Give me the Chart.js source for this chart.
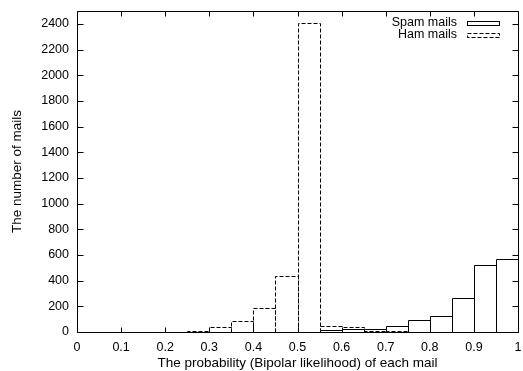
<!DOCTYPE html>
<html>
<head>
<meta charset="utf-8">
<title>Bipolar likelihood histogram</title>
<script src="https://cdn.jsdelivr.net/npm/chart.js@4/dist/chart.umd.min.js"></script>
<style>
  html, body { margin: 0; padding: 0; background: #fff; }
  #wrap { width: 523px; height: 371px; }
</style>
</head>
<body>
<div id="wrap"><canvas id="histo" width="523" height="371"></canvas></div>
<script>
// ================= DATA =================
// bins are 0.05 wide, stored by their centre
const binCenters = [0.275, 0.325, 0.375, 0.425, 0.475, 0.525, 0.575, 0.625, 0.675, 0.725, 0.775, 0.825, 0.875, 0.925, 0.975];
const spamCounts = [null, null, null, null, null, null, 15, 25, 22, 48, 95, 125, 265, 525, 572];
const hamCounts  = [6, 40, 85, 190, 435, 2410, 45, 38, 10, 4, null, null, null, null, null];
const seriesLabels = ["Spam mails", "Ham mails"];
const xTicks = [0, 0.1, 0.2, 0.3, 0.4, 0.5, 0.6, 0.7, 0.8, 0.9, 1];
const yTicks = [0, 200, 400, 600, 800, 1000, 1200, 1400, 1600, 1800, 2000, 2200, 2400];

const FAMILY = '"Liberation Sans", Arial, Helvetica, sans-serif';
const INK = "#000";

function toPoints(counts) {
    return binCenters.map((x, i) => ({ x: x, y: counts[i] }));
}

// ================= PLUGINS =================

// gnuplot-like boxes: outline only, optional dash
const boxOutline = {
    id: "boxOutline",
    afterDatasetsDraw(chart) {
        const ctx = chart.ctx;
        chart.data.datasets.forEach((ds, i) => {
            const meta = chart.getDatasetMeta(i);
            ctx.save();
            ctx.strokeStyle = ds.lineColor;
            ctx.lineWidth = 1;
            ctx.setLineDash(ds.dash);
            meta.data.forEach((bar, j) => {
                if (ds.data[j].y == null) return;
                const p = bar.getProps(["x", "y", "base", "width"], true);
                const l = Math.round(p.x - p.width / 2) + 0.5;
                const r = Math.round(p.x + p.width / 2) + 0.5;
                const t = Math.round(p.y) + 0.5;
                const b = Math.round(p.base) + 0.5;
                ctx.beginPath();
                ctx.moveTo(l, b);
                ctx.lineTo(l, t);
                ctx.lineTo(r, t);
                ctx.lineTo(r, b);
                ctx.stroke();
            });
            ctx.restore();
        });
    }
};

// border box with inward ticks on all four sides
const frame = {
    id: "frame",
    afterDraw(chart) {
        const { ctx, chartArea: a } = chart;
        const xs = chart.scales.x, ys = chart.scales.y;
        const L = Math.round(a.left) + 0.5, R = Math.round(a.right) + 0.5;
        const T = Math.round(a.top) + 0.5, B = Math.round(a.bottom) + 0.5;
        ctx.save();
        ctx.strokeStyle = INK;
        ctx.lineWidth = 1;
        ctx.beginPath();
        ctx.rect(L, T, R - L, B - T);
        xTicks.forEach(v => {
            const px = Math.round(xs.getPixelForValue(v)) + 0.5;
            ctx.moveTo(px, B); ctx.lineTo(px, B - 5);
            ctx.moveTo(px, T); ctx.lineTo(px, T + 5);
        });
        yTicks.forEach(v => {
            const py = Math.round(ys.getPixelForValue(v)) + 0.5;
            ctx.moveTo(L, py); ctx.lineTo(L + 6, py);
            ctx.moveTo(R, py); ctx.lineTo(R - 6, py);
        });
        ctx.stroke();
        ctx.restore();
    }
};

// key in the top right corner: text, then sample box
const key = {
    id: "key",
    afterDraw(chart) {
        const { ctx, chartArea: a } = chart;
        ctx.save();
        ctx.font = "12.5px " + FAMILY;
        ctx.fillStyle = INK;
        ctx.strokeStyle = INK;
        ctx.lineWidth = 1;
        ctx.textAlign = "right";
        ctx.textBaseline = "middle";
        chart.data.datasets.forEach((ds, i) => {
            const cy = a.top + 12 + i * 11.5;
            ctx.fillText(ds.label, a.right - 61, cy);
            ctx.setLineDash(ds.dash);
            const sx = Math.round(a.right - 51) + 0.5;
            const sy = Math.round(cy - 2) + 0.5;
            ctx.strokeRect(sx, sy, 32, 4);
        });
        ctx.restore();
    }
};

// ================= CHART =================
const tickFont = { family: FAMILY, size: 12.5 };
const titleFont = { family: FAMILY, size: 13.5 };

new Chart(document.getElementById("histo"), {
    type: "bar",
    data: {
        datasets: [
            {
                label: seriesLabels[0],
                data: toPoints(spamCounts),
                lineColor: INK,
                dash: [],
                backgroundColor: "rgba(0,0,0,0)",
                borderWidth: 0,
                grouped: false,
                barPercentage: 1,
                categoryPercentage: 1
            },
            {
                label: seriesLabels[1],
                data: toPoints(hamCounts),
                lineColor: INK,
                dash: [4, 2],
                backgroundColor: "rgba(0,0,0,0)",
                borderWidth: 0,
                grouped: false,
                barPercentage: 1,
                categoryPercentage: 1
            }
        ]
    },
    options: {
        responsive: false,
        animation: false,
        devicePixelRatio: 1,
        layout: { padding: { top: 11, right: 5, left: 0, bottom: 0 } },
        plugins: {
            legend: { display: false },
            tooltip: { enabled: false }
        },
        scales: {
            x: {
                type: "linear",
                min: 0,
                max: 1,
                offset: false,
                afterBuildTicks: s => { s.ticks = xTicks.map(v => ({ value: v })); },
                afterFit: s => { s.height = 39; s.paddingLeft = 0; s.paddingRight = 0; },
                grid: { display: false, drawTicks: false },
                border: { display: false },
                ticks: { font: tickFont, color: INK, padding: 8, maxRotation: 0, callback: v => String(v) },
                title: { display: true, text: "The probability (Bipolar likelihood) of each mail", font: titleFont, color: INK, padding: { top: 0, bottom: 0 } }
            },
            y: {
                type: "linear",
                min: 0,
                max: 2500,
                afterBuildTicks: s => { s.ticks = yTicks.map(v => ({ value: v })); },
                afterFit: s => { s.width = 77; s.paddingTop = 0; s.paddingBottom = 0; },
                grid: { display: false, drawTicks: false },
                border: { display: false },
                ticks: { font: tickFont, color: INK, padding: 8, callback: v => String(v) },
                title: { display: true, text: "The number of mails", font: titleFont, color: INK, padding: { top: 9, bottom: 0 } }
            }
        }
    },
    plugins: [boxOutline, frame, key]
});
</script>
</body>
</html>
